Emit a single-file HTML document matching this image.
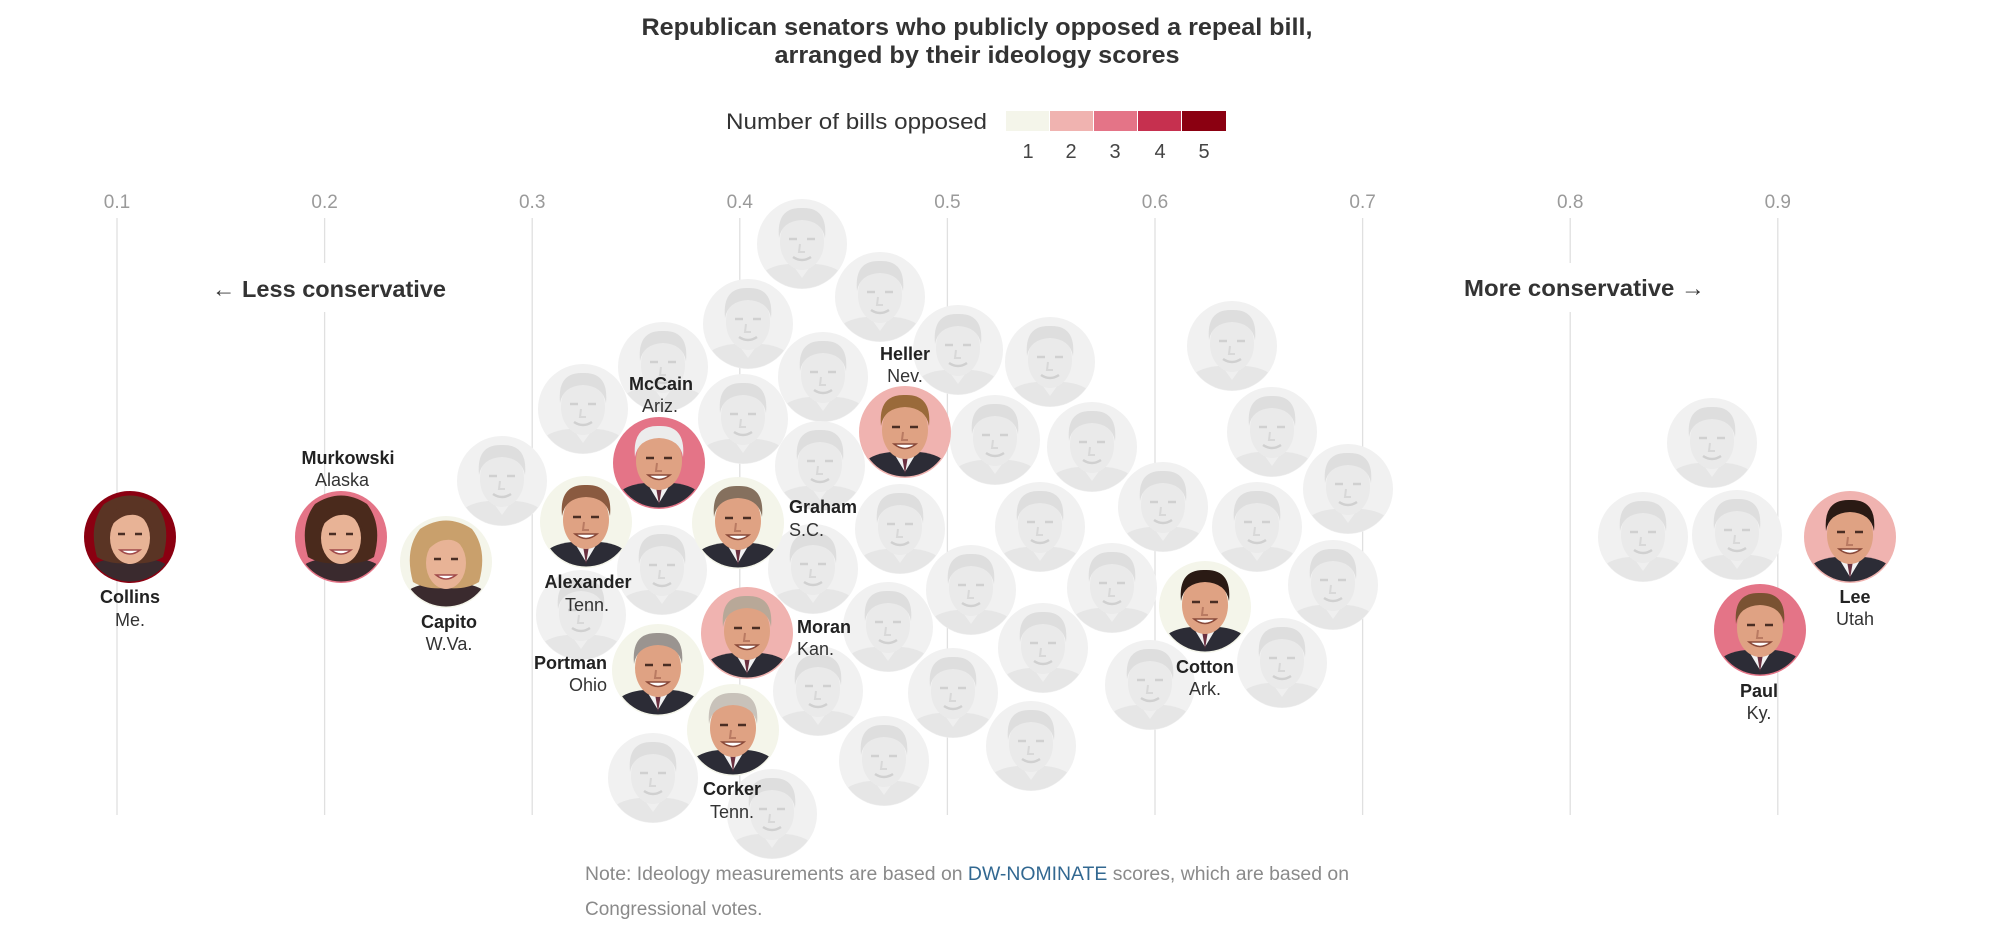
<!DOCTYPE html>
<html><head><meta charset="utf-8"><style>
html,body{margin:0;padding:0;background:#fff;}
body{width:1999px;height:935px;overflow:hidden;}
svg{display:block;font-family:"Liberation Sans",Arial,sans-serif;}
.tk{font-size:19px;fill:#9a9a9a;text-anchor:middle;}
.nm{font-size:18px;font-weight:bold;fill:#222;}
.st{font-size:18px;fill:#333;}
.c{text-anchor:middle;}
.e{text-anchor:end;}
</style></head><body>
<svg width="1999" height="935" viewBox="0 0 1999 935" xmlns="http://www.w3.org/2000/svg">
<defs>
<clipPath id="cp"><circle cx="0" cy="0" r="44.5"/></clipPath>
<g id="g">
 <circle r="45" fill="#f1f1f1"/>
 <g clip-path="url(#cp)">
  <path d="M-48 48 L-44 34 Q-36 22 -14 20 L14 20 Q36 22 44 34 L48 48Z" fill="#e6e6e6"/>
  <path d="M-10 20 L0 34 L10 20Z" fill="#efefef"/>
  <ellipse cx="0" cy="-2" rx="22" ry="28" fill="#eaeaea"/>
  <path d="M-23 -6 Q-26 -37 0 -36 Q26 -37 23 -6 Q20 -23 0 -24 Q-20 -23 -23 -6Z" fill="#dedede"/>
  <path d="M-13 -5h8M5 -5h8" stroke="#d0d0d0" stroke-width="2.5"/>
  <path d="M-2 0 L-3 8 L3 8" stroke="#d8d8d8" stroke-width="2" fill="none"/>
  <path d="M-9 13 Q0 19 9 13" stroke="#d0d0d0" stroke-width="2.5" fill="none"/>
 </g>
</g>
<g id="m" clip-path="url(#cp)">
  <path d="M-48 48 L-44 34 Q-36 22 -14 20 L14 20 Q36 22 44 34 L48 48Z" fill="#2c2c36"/>
  <path d="M-12 20 L0 40 L12 20Z" fill="#f2f2f2"/>
  <path d="M-3 24 L0 42 L3 24Z" fill="#6a3040"/>
  <ellipse cx="0" cy="-2" rx="23" ry="29" fill="#dfa283"/>
  <path d="M-24 -6 Q-27 -38 0 -37 Q27 -38 24 -6 Q21 -24 0 -25 Q-21 -24 -24 -6Z" fill="currentColor"/>
  <path d="M-13 -5h8M5 -5h8" stroke="#4a2e24" stroke-width="2.5"/>
  <path d="M-2 0 L-3 8 L3 8" stroke="#b97a62" stroke-width="2" fill="none"/>
  <path d="M-11 12 Q0 21 11 12 Z" fill="#fff" stroke="#8a4a3a" stroke-width="1.5"/>
</g>
<g id="f" clip-path="url(#cp)">
  <path d="M-48 48 L-42 32 Q-32 22 -14 22 L14 22 Q32 22 42 32 L48 48Z" fill="#3a2a2e"/>
  <path d="M-33 20 Q-42 -12 -26 -33 Q0 -50 26 -33 Q42 -12 33 20 Q20 28 0 26 Q-20 28 -33 20Z" fill="currentColor"/>
  <ellipse cx="0" cy="1" rx="20" ry="26" fill="#e8b396"/>
  <path d="M-22 -8 Q-18 -33 0 -31 Q18 -33 22 -8 Q12 -24 0 -22 Q-10 -22 -22 -8Z" fill="currentColor"/>
  <path d="M-12 -3h7M5 -3h7" stroke="#4a2e24" stroke-width="2.5"/>
  <path d="M-10 13 Q0 21 10 13 Z" fill="#fff" stroke="#a04a4a" stroke-width="1.5"/>
</g>
</defs>

<!-- Title -->
<text x="977" y="35" text-anchor="middle" font-size="24" font-weight="bold" fill="#333" textLength="671" lengthAdjust="spacingAndGlyphs">Republican senators who publicly opposed a repeal bill,</text>
<text x="977" y="63" text-anchor="middle" font-size="24" font-weight="bold" fill="#333" textLength="405" lengthAdjust="spacingAndGlyphs">arranged by their ideology scores</text>

<!-- Legend -->
<text x="987" y="129" text-anchor="end" font-size="22" fill="#333" textLength="261" lengthAdjust="spacingAndGlyphs">Number of bills opposed</text>
<rect x="1006" y="111" width="43" height="20" fill="#f4f5ea"/>
<rect x="1050" y="111" width="43" height="20" fill="#f0b3b0"/>
<rect x="1094" y="111" width="43" height="20" fill="#e47487"/>
<rect x="1138" y="111" width="43" height="20" fill="#c6304f"/>
<rect x="1182" y="111" width="44" height="20" fill="#8b0011"/>
<g font-size="20" fill="#444" text-anchor="middle">
<text x="1028" y="158">1</text><text x="1071" y="158">2</text><text x="1115" y="158">3</text><text x="1160" y="158">4</text><text x="1204" y="158">5</text>
</g>

<!-- Ticks & gridlines -->
<g stroke="#e0e0e0" stroke-width="1.3">
<line x1="117" y1="218" x2="117" y2="815"/>
<line x1="324.6" y1="218" x2="324.6" y2="815"/>
<line x1="532.2" y1="218" x2="532.2" y2="815"/>
<line x1="739.8" y1="218" x2="739.8" y2="815"/>
<line x1="947.4" y1="218" x2="947.4" y2="815"/>
<line x1="1155" y1="218" x2="1155" y2="815"/>
<line x1="1362.6" y1="218" x2="1362.6" y2="815"/>
<line x1="1570.2" y1="218" x2="1570.2" y2="815"/>
<line x1="1777.8" y1="218" x2="1777.8" y2="815"/>
</g>
<g class="tk">
<text x="117" y="208">0.1</text><text x="324.6" y="208">0.2</text><text x="532.2" y="208">0.3</text>
<text x="739.8" y="208">0.4</text><text x="947.4" y="208">0.5</text><text x="1155" y="208">0.6</text>
<text x="1362.6" y="208">0.7</text><text x="1570.2" y="208">0.8</text><text x="1777.8" y="208">0.9</text>
</g>

<rect x="206" y="263" width="246" height="49" fill="#fff"/>
<rect x="1458" y="263" width="254" height="49" fill="#fff"/>
<text x="212" y="297" font-size="23" font-weight="bold" fill="#333" textLength="234" lengthAdjust="spacingAndGlyphs">← Less conservative</text>
<text x="1464" y="296" font-size="23" font-weight="bold" fill="#333" textLength="241" lengthAdjust="spacingAndGlyphs">More conservative →</text>

<!-- Grey senators -->
<g>
<use href="#g" x="502" y="481"/><use href="#g" x="583" y="409"/><use href="#g" x="663" y="367"/>
<use href="#g" x="662" y="570"/><use href="#g" x="581" y="615"/><use href="#g" x="653" y="778"/>
<use href="#g" x="772" y="814"/><use href="#g" x="748" y="324"/><use href="#g" x="743" y="419"/>
<use href="#g" x="802" y="244"/><use href="#g" x="823" y="377"/><use href="#g" x="880" y="297"/>
<use href="#g" x="820" y="466"/><use href="#g" x="813" y="569"/><use href="#g" x="900" y="529"/>
<use href="#g" x="818" y="691"/><use href="#g" x="888" y="627"/><use href="#g" x="884" y="761"/>
<use href="#g" x="958" y="350"/><use href="#g" x="995" y="440"/><use href="#g" x="1050" y="362"/>
<use href="#g" x="971" y="590"/><use href="#g" x="953" y="693"/><use href="#g" x="1040" y="527"/>
<use href="#g" x="1092" y="447"/><use href="#g" x="1043" y="648"/><use href="#g" x="1031" y="746"/>
<use href="#g" x="1112" y="588"/><use href="#g" x="1163" y="507"/><use href="#g" x="1150" y="685"/>
<use href="#g" x="1232" y="346"/><use href="#g" x="1272" y="432"/><use href="#g" x="1257" y="527"/>
<use href="#g" x="1348" y="489"/><use href="#g" x="1333" y="585"/><use href="#g" x="1282" y="663"/>
<use href="#g" x="1712" y="443"/><use href="#g" x="1643" y="537"/><use href="#g" x="1737" y="535"/>
</g>

<!-- Colored senators -->
<circle cx="130" cy="537" r="46" fill="#8b0011"/><use href="#f" x="130" y="537" color="#5a3424"/>
<circle cx="341" cy="537" r="46" fill="#e47487"/><use href="#f" x="341" y="537" color="#4a2a1c"/>
<circle cx="446" cy="562" r="46" fill="#f4f5ea"/><use href="#f" x="446" y="562" color="#c9a06c"/>
<circle cx="659" cy="463" r="46" fill="#e47487"/><use href="#m" x="659" y="463" color="#ececec"/>
<circle cx="586" cy="522" r="46" fill="#f4f5ea"/><use href="#m" x="586" y="522" color="#8a5a40"/>
<circle cx="658" cy="670" r="46" fill="#f4f5ea"/><use href="#m" x="658" y="670" color="#9a9490"/>
<circle cx="738" cy="523" r="46" fill="#f4f5ea"/><use href="#m" x="738" y="523" color="#85705e"/>
<circle cx="747" cy="633" r="46" fill="#f0b3b0"/><use href="#m" x="747" y="633" color="#b8a898"/>
<circle cx="733" cy="730" r="46" fill="#f4f5ea"/><use href="#m" x="733" y="730" color="#c8c2ba"/>
<circle cx="905" cy="432" r="46" fill="#f0b3b0"/><use href="#m" x="905" y="432" color="#9a6a3a"/>
<circle cx="1205" cy="607" r="46" fill="#f4f5ea"/><use href="#m" x="1205" y="607" color="#2a1a14"/>
<circle cx="1850" cy="537" r="46" fill="#f0b3b0"/><use href="#m" x="1850" y="537" color="#2a1a14"/>
<circle cx="1760" cy="630" r="46" fill="#e47487"/><use href="#m" x="1760" y="630" color="#7a5232"/>

<!-- Labels -->
<text class="nm c" x="130" y="603">Collins</text><text class="st c" x="130" y="626">Me.</text>
<text class="nm c" x="348" y="464">Murkowski</text><text class="st c" x="342" y="486">Alaska</text>
<text class="nm c" x="449" y="628">Capito</text><text class="st c" x="449" y="650">W.Va.</text>
<text class="nm c" x="661" y="390">McCain</text><text class="st c" x="660" y="412">Ariz.</text>
<text class="nm c" x="905" y="360">Heller</text><text class="st c" x="905" y="382">Nev.</text>
<text class="nm c" x="588" y="588">Alexander</text><text class="st c" x="587" y="611">Tenn.</text>
<text class="nm" x="789" y="513">Graham</text><text class="st" x="789" y="536">S.C.</text>
<text class="nm" x="797" y="633">Moran</text><text class="st" x="797" y="655">Kan.</text>
<text class="nm e" x="607" y="669">Portman</text><text class="st e" x="607" y="691">Ohio</text>
<text class="nm c" x="732" y="795">Corker</text><text class="st c" x="732" y="818">Tenn.</text>
<text class="nm c" x="1205" y="673">Cotton</text><text class="st c" x="1205" y="695">Ark.</text>
<text class="nm c" x="1855" y="603">Lee</text><text class="st c" x="1855" y="625">Utah</text>
<text class="nm c" x="1759" y="697">Paul</text><text class="st c" x="1759" y="719">Ky.</text>

<!-- Note -->
<text x="585" y="880" font-size="19" fill="#8a8a8a" textLength="764" lengthAdjust="spacingAndGlyphs">Note: Ideology measurements are based on <tspan fill="#326891">DW-NOMINATE</tspan> scores, which are based on</text>
<text x="585" y="915" font-size="19" fill="#8a8a8a">Congressional votes.</text>
</svg>
</body></html>
